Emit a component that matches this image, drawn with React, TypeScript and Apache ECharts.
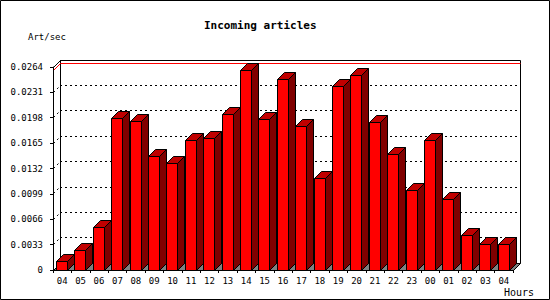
import React, { useEffect, useRef } from 'react';
import * as echarts from 'echarts';

const hours = ['04','05','06','07','08','09','10','11','12','13','14','15','16','17','18','19','20','21','22','23','00','01','02','03','04'];
const artPerSec = [0.00113,0.00256,0.00555,0.01973,0.01925,0.01478,0.01385,0.01678,0.01704,0.02025,0.02588,0.01951,0.0248,0.01869,0.01192,0.02389,0.02532,0.0192,0.01504,0.01036,0.01678,0.00919,0.00451,0.00334,0.00334];
const yTickLabels = ['0','0.0033','0.0066','0.0099','0.0132','0.0165','0.0198','0.0231','0.0264'];
const yStep = 0.0033;
const yMax = 0.0264;

const FONT = "'DejaVu Sans Mono', monospace";
const DEPTH = 7;
const snap = (v: number) => Math.floor(v) + 0.5;

export default function App() {
  const ref = useRef<HTMLDivElement>(null);
  useEffect(() => {
    const chart = echarts.init(ref.current!, null, { renderer: 'svg' });
    const maxVal = Math.max(...artPerSec);

    const frameSeries = {
      type: 'custom',
      xAxisIndex: 0,
      yAxisIndex: 0,
      silent: true,
      data: [[0, maxVal]],
      encode: { x: 0, y: 1 },
      renderItem: (params: any, api: any) => {
        const cs = params.coordSys;
        const D = DEPTH;
        const x0 = snap(cs.x), x1 = snap(cs.x + cs.width);
        const yT = snap(cs.y), yB = snap(cs.y + cs.height);
        const children: any[] = [];
        children.push({ type: 'polygon', shape: { points: [[x0, yB], [x1, yB], [x1 + D, yB - D], [x0 + D, yB - D]] }, style: { fill: '#808080', stroke: '#000', lineWidth: 1 } });
        children.push({ type: 'polyline', shape: { points: [[x0 + D, yB - D], [x0 + D, yT - D], [x1 + D, yT - D], [x1 + D, yB - D]] }, style: { fill: null, stroke: '#000', lineWidth: 1 } });
        children.push({ type: 'line', shape: { x1: x0, y1: yT, x2: x0 + D, y2: yT - D }, style: { stroke: '#000', lineWidth: 1 } });
        for (let k = 1; k < yTickLabels.length - 1; k++) {
          const y = snap(api.coord([0, k * yStep])[1]);
          children.push({ type: 'line', shape: { x1: x0, y1: y, x2: x0 + D, y2: y - D }, style: { stroke: '#000', lineWidth: 1, lineDash: [2, 3] } });
        }
        const ym = snap(api.coord([0, api.value(1)])[1]);
        children.push({ type: 'polyline', shape: { points: [[x0, ym], [x0 + D, ym - D], [x1 + D, ym - D]] }, style: { fill: null, stroke: '#ff0000', lineWidth: 1 } });
        return { type: 'group', children };
      },
    };

    const barSeries = {
      type: 'custom',
      name: 'Art/sec',
      xAxisIndex: 0,
      yAxisIndex: 0,
      data: artPerSec.map((v, i) => [i, v]),
      encode: { x: 0, y: 1 },
      renderItem: (params: any, api: any) => {
        const idx = api.value(0);
        const v = api.value(1);
        const top = api.coord([idx, v]);
        const base = api.coord([idx, 0]);
        const band = api.size([1, 0])[0];
        const d = DEPTH;
        const fl = snap(top[0] - band / 2 + band * 0.19);
        const w = Math.round(band * 0.6);
        const fr = fl + w;
        const yt = snap(top[1]);
        const yb = snap(base[1]);
        return {
          type: 'group',
          children: [
            { type: 'polygon', shape: { points: [[fr, yt], [fr + d, yt - d], [fr + d, yb - d], [fr, yb]] }, style: { fill: '#800000', stroke: '#000', lineWidth: 1 } },
            { type: 'polygon', shape: { points: [[fl, yt], [fl + d, yt - d], [fr + d, yt - d], [fr, yt]] }, style: { fill: '#c00000', stroke: '#000', lineWidth: 1 } },
            { type: 'rect', shape: { x: fl, y: yt, width: w, height: yb - yt }, style: { fill: '#ff0000', stroke: '#000', lineWidth: 1 } },
          ],
        };
      },
    };

    const option: any = {
      animation: false,
      backgroundColor: '#ffffff',
      title: {
        text: 'Incoming articles',
        left: 204,
        top: 20,
        padding: 0,
        textStyle: { fontFamily: FONT, fontSize: 11, fontWeight: 'bold', color: '#000' },
      },
      grid: [
        { left: 53, right: 37, top: 67, bottom: 30, show: false },
        { left: 60, right: 30, top: 60, bottom: 37, show: false },
      ],
      xAxis: [
        {
          type: 'category', gridIndex: 0, data: hours, boundaryGap: true,
          axisLine: { show: true, lineStyle: { color: '#000', width: 1 } },
          axisTick: { show: true, length: 3, alignWithLabel: false, interval: 0, lineStyle: { color: '#000' } },
          axisLabel: { color: '#000', fontFamily: FONT, fontSize: 9, margin: 6, interval: 0 },
          splitLine: { show: false },
          z: 5,
        },
        { type: 'category', gridIndex: 1, data: hours, show: false },
      ],
      yAxis: [
        {
          type: 'value', gridIndex: 0, min: 0, max: yMax, interval: yStep,
          axisLine: { show: true, lineStyle: { color: '#000', width: 1 } },
          axisTick: { show: true, length: 3, lineStyle: { color: '#000' } },
          axisLabel: { color: '#000', fontFamily: FONT, fontSize: 9, margin: 10, formatter: (v: number) => yTickLabels[Math.round(v / yStep)] },
          splitLine: { show: false },
          z: 5,
        },
        {
          type: 'value', gridIndex: 1, min: 0, max: yMax, interval: yStep,
          axisLine: { show: false }, axisTick: { show: false }, axisLabel: { show: false },
          splitLine: { show: true, lineStyle: { color: '#000', width: 1, type: [2, 3] } },
        },
      ],
      graphic: [
        { type: 'text', x: 28, y: 37, style: { text: 'Art/sec', fontFamily: FONT, fontSize: 9, fill: '#000', verticalAlign: 'middle', align: 'left' } },
        { type: 'text', x: 504, y: 292, style: { text: 'Hours', fontFamily: FONT, fontSize: 10, fill: '#000', verticalAlign: 'middle', align: 'left' } },
        { type: 'rect', shape: { x: 0.5, y: 0.5, width: 549, height: 299 }, style: { fill: 'none', stroke: '#000', lineWidth: 1 }, z: 100, silent: true },
      ],
      series: [frameSeries, barSeries],
    };
    chart.setOption(option);
    return () => chart.dispose();
  }, []);
  return <div ref={ref} style={{ position: 'fixed', left: 0, top: 0, width: 550, height: 300 }} />;
}
